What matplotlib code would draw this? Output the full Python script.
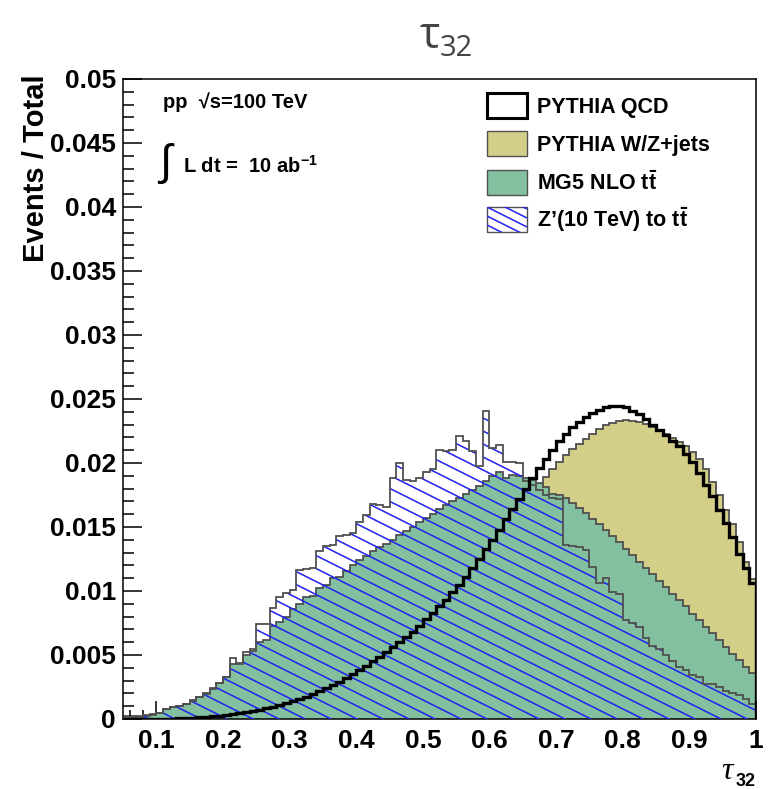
import matplotlib.pyplot as plt
import numpy as np
from matplotlib.collections import LineCollection
from matplotlib.patches import Rectangle

plt.rcParams["font.family"] = ["Liberation Sans", "DejaVu Sans"]
plt.rcParams["mathtext.fontset"] = "custom"
plt.rcParams["mathtext.rm"] = "Liberation Sans:bold"
plt.rcParams["mathtext.bf"] = "Liberation Sans:bold"
plt.rcParams["mathtext.it"] = "Liberation Sans:bold:italic"

# histogram binning: 0.01 wide bins from 0.05 to 1.0
bin_edges = np.round(np.arange(0.05, 1.0 + 1e-9, 0.01), 2)

# Events / Total per bin
qcd = [
    0.0, 0.0, 0.00001, 0.00001, 0.00001, 0.00001, 0.00002, 0.00003, 0.00005, 0.00007,
    0.0001, 0.00013, 0.00017, 0.00022, 0.00027, 0.00033, 0.0004, 0.00047, 0.00055, 0.00064,
    0.00074, 0.00085, 0.00097, 0.0011, 0.00125, 0.0014, 0.00155, 0.00175, 0.00195, 0.00215,
    0.0024, 0.00265, 0.0029, 0.0032, 0.0035, 0.0038, 0.00415, 0.0045, 0.00485, 0.0052,
    0.0056, 0.006, 0.0064, 0.0068, 0.0073, 0.0078, 0.0083, 0.0088, 0.0093, 0.0099,
    0.0105, 0.0111, 0.0118, 0.0125, 0.0133, 0.014, 0.0148, 0.0156, 0.0164, 0.0172,
    0.018, 0.0188, 0.0196, 0.0203, 0.021, 0.0217, 0.0223, 0.0228, 0.0232, 0.0236,
    0.0239, 0.02415, 0.02435, 0.02445, 0.02445, 0.02435, 0.0241, 0.02385, 0.02345, 0.023,
    0.0226, 0.0222, 0.0217, 0.0213, 0.0207, 0.0201, 0.0192, 0.0183, 0.0174, 0.0163,
    0.0153, 0.0142, 0.0129, 0.0118, 0.0106,
]
wz_jets = [
    0.00025, 0.0002, 0.00012, 0.00006, 0.00005, 0.00005, 0.00006, 0.00007, 0.00009, 0.00011,
    0.00014, 0.00017, 0.00021, 0.00025, 0.0003, 0.00036, 0.00042, 0.00049, 0.00057, 0.00066,
    0.00076, 0.00087, 0.00099, 0.00112, 0.00126, 0.00141, 0.00157, 0.00175, 0.00194, 0.00214,
    0.00236, 0.0026, 0.00285, 0.0031, 0.0034, 0.0037, 0.004, 0.00435, 0.0047, 0.00505,
    0.00545, 0.00585, 0.0063, 0.00675, 0.0072, 0.0077, 0.0082, 0.0087, 0.00925, 0.0098,
    0.0104, 0.011, 0.0116, 0.0122, 0.0128, 0.0134, 0.014, 0.0146, 0.0152, 0.0158,
    0.0164, 0.0171, 0.0178, 0.0189, 0.0195, 0.0201, 0.0206, 0.0211, 0.0215, 0.0219,
    0.0223, 0.02265, 0.02295, 0.02315, 0.0233, 0.02335, 0.0233, 0.0232, 0.02305, 0.02285,
    0.0226, 0.0223, 0.02195, 0.02165, 0.0213, 0.02085, 0.0203, 0.0195, 0.0185, 0.0175,
    0.0163, 0.0152, 0.0138, 0.0123, 0.0109,
]
ttbar_nlo = [
    0.0001, 0.00012, 0.00015, 0.00025, 0.0003, 0.00045, 0.00075, 0.0009, 0.001, 0.0012,
    0.00145, 0.0017, 0.002, 0.0024, 0.0028, 0.0033, 0.0043, 0.0044, 0.005, 0.0053,
    0.006, 0.0062, 0.0073, 0.0076, 0.008, 0.0086, 0.009, 0.0095, 0.0096, 0.0102,
    0.0105, 0.011, 0.0111, 0.0116, 0.012, 0.0124, 0.0127, 0.0131, 0.0134, 0.0137,
    0.014, 0.0144, 0.0147, 0.015, 0.0154, 0.0157, 0.016, 0.0164, 0.0167, 0.017,
    0.0173, 0.0176, 0.0179, 0.0182, 0.0186, 0.019, 0.0193, 0.0188, 0.0191, 0.019,
    0.0188, 0.0187, 0.0184, 0.0181, 0.0176, 0.0175, 0.0173, 0.0169, 0.0165, 0.0161,
    0.0156, 0.0152, 0.0148, 0.0143, 0.0138, 0.0133, 0.0128, 0.0123, 0.0118, 0.0113,
    0.0108, 0.0103, 0.0098, 0.0093, 0.0088, 0.0082, 0.0077, 0.0072, 0.0067, 0.0062,
    0.0056, 0.0051, 0.0046, 0.0041, 0.0036,
]
zprime = [
    0.0001, 0.00012, 0.0002, 0.00035, 0.0004, 0.0005, 0.0008, 0.0009, 0.001, 0.00115,
    0.0014, 0.0017, 0.00195, 0.00235, 0.00285, 0.00325, 0.0048, 0.0043, 0.0052, 0.00545,
    0.0074, 0.0074, 0.0087, 0.0095, 0.00985, 0.0101, 0.01165, 0.0117, 0.0118, 0.0131,
    0.0135, 0.0136, 0.0143, 0.0144, 0.0145, 0.0154, 0.0159, 0.0168, 0.0167, 0.0166,
    0.0188, 0.02, 0.0187, 0.0186, 0.0188, 0.0193, 0.0195, 0.021, 0.0209, 0.021,
    0.0221, 0.0217, 0.0209, 0.0198, 0.0241, 0.0212, 0.0214, 0.0201, 0.0201, 0.02,
    0.0186, 0.0183, 0.0179, 0.0175, 0.0173, 0.0172, 0.0136, 0.0135, 0.0134, 0.0132,
    0.0119, 0.0106, 0.011, 0.00995, 0.0098, 0.0077, 0.0075, 0.0072, 0.0063, 0.0057,
    0.0055, 0.005, 0.0045, 0.0041, 0.0038, 0.0034, 0.0033, 0.0027, 0.0027, 0.0025,
    0.00215, 0.002, 0.0019, 0.0016, 0.0012,
]

x_ticks = [0.1, 0.2, 0.3, 0.4, 0.5, 0.6, 0.7, 0.8, 0.9, 1.0]
x_labels = ["0.1", "0.2", "0.3", "0.4", "0.5", "0.6", "0.7", "0.8", "0.9", "1"]
y_ticks = [0, 0.005, 0.01, 0.015, 0.02, 0.025, 0.03, 0.035, 0.04, 0.045, 0.05]
y_labels = ["0", "0.005", "0.01", "0.015", "0.02", "0.025", "0.03", "0.035",
            "0.04", "0.045", "0.05"]

legend_labels = ["PYTHIA QCD", "PYTHIA W/Z+jets",
                 r"MG5 NLO t$\bar{\mathrm{t}}$", r"Z’(10 TeV) to t$\bar{\mathrm{t}}$"]

KHAKI = "#d4cf88"
GREEN = "#82c0a0"
EDGE = "#505050"
HATCH = "#2222f0"

W, H = 770, 789


def fx(x):
    return x / W


def fy(y):
    return 1 - y / H


fig = plt.figure(figsize=(7.7, 7.89), dpi=100)
ax = fig.add_axes([fx(123), fy(719), 633 / W, 640 / H])

ax.stairs(wz_jets, bin_edges, fill=True, facecolor=KHAKI, edgecolor=EDGE,
          linewidth=1.3, zorder=1)
ax.stairs(ttbar_nlo, bin_edges, fill=True, facecolor=GREEN, edgecolor=EDGE,
          linewidth=1.3, zorder=2)
zp = ax.stairs(zprime, bin_edges, fill=True, facecolor="none", edgecolor=EDGE,
               linewidth=1.3, zorder=4)

# ROOT-like shallow hatch, clipped to the Z' histogram
drop = 0.5 * 633 / 640
segs = [[(0, c), (1, c - drop)] for c in np.arange(0, 1 + drop, 13 / 640)]
hatch = LineCollection(segs, colors=HATCH, linewidths=1.1,
                       transform=ax.transAxes, zorder=3)
ax.add_collection(hatch, autolim=False)
hatch.set_clip_path(zp)

ax.stairs(qcd, bin_edges, color="black", linewidth=2.4, zorder=5)

ax.set_xlim(0.05, 1.0)
ax.set_ylim(0, 0.05)
ax.set_xticks(x_ticks, x_labels)
ax.set_xticks(np.arange(0.06, 1.0, 0.02), minor=True)
ax.set_yticks(y_ticks, y_labels)
ax.set_yticks(np.arange(0, 0.0505, 0.001), minor=True)
ax.tick_params(which="both", direction="in", width=1.1)
ax.tick_params(axis="x", which="major", length=13, pad=7, labelsize=19)
ax.tick_params(axis="x", which="minor", length=6.5)
ax.tick_params(axis="y", which="major", length=14, pad=5, labelsize=19)
ax.tick_params(axis="y", which="minor", length=8)
for lab in ax.get_xticklabels() + ax.get_yticklabels():
    lab.set_fontweight("bold")
for s in ax.spines.values():
    s.set_linewidth(1.1)

fig.text(fx(36), fy(74), "Events / Total", rotation=90, ha="center", va="top",
         fontsize=21, fontweight="bold")

# title
fig.text(fx(440), fy(48), "τ", ha="right", va="baseline", fontsize=31,
         color="#444444", family="Open Sans")
fig.text(fx(440), fy(56), "32", ha="left", va="baseline", fontsize=21,
         color="#444444", family="Open Sans")

# x axis title
fig.text(fx(721), fy(779), "τ", family="Liberation Serif", style="italic",
         fontsize=23, va="baseline")
fig.text(fx(736), fy(786), "32", fontsize=13, fontweight="bold", va="baseline")

# luminosity text
fig.text(fx(163), fy(108), "pp  √s=100 TeV", fontsize=14.5, fontweight="bold",
         va="baseline")
fig.text(fx(159), fy(163), "∫", fontsize=32, va="center", ha="left",
         family=["Liberation Sans", "DejaVu Sans"])
fig.text(fx(183), fy(173), "L dt =  10 ab$^{-1}$", fontsize=14.5,
         fontweight="bold", va="baseline")

# legend drawn ROOT-style
row_tops = [93, 131, 170, 207]
faces = ["white", KHAKI, GREEN, "white"]
edges = ["black", EDGE, EDGE, EDGE]
widths = [2.2, 1.0, 1.0, 1.0]
for top, face, ec, lw, label in zip(row_tops, faces, edges, widths, legend_labels):
    rect = Rectangle((fx(487), fy(top + 25)), 40 / W, 25 / H, transform=fig.transFigure,
                     facecolor=face, edgecolor=ec, linewidth=lw)
    fig.add_artist(rect)
    fig.text(fx(537), fy(top + 20), label, fontsize=15.5, fontweight="bold",
             va="baseline")

box = Rectangle((fx(487), fy(232)), 40 / W, 25 / H, transform=fig.transFigure,
                facecolor="none", edgecolor="none")
fig.add_artist(box)
lsegs = [[(fx(487), fy(c)), (fx(527), fy(c + 20))] for c in np.arange(189, 236, 9)]
lhatch = LineCollection(lsegs, colors=HATCH, linewidths=1.1, transform=fig.transFigure)
fig.add_artist(lhatch)
lhatch.set_clip_path(box)

fig.savefig("out.png", dpi=100)
